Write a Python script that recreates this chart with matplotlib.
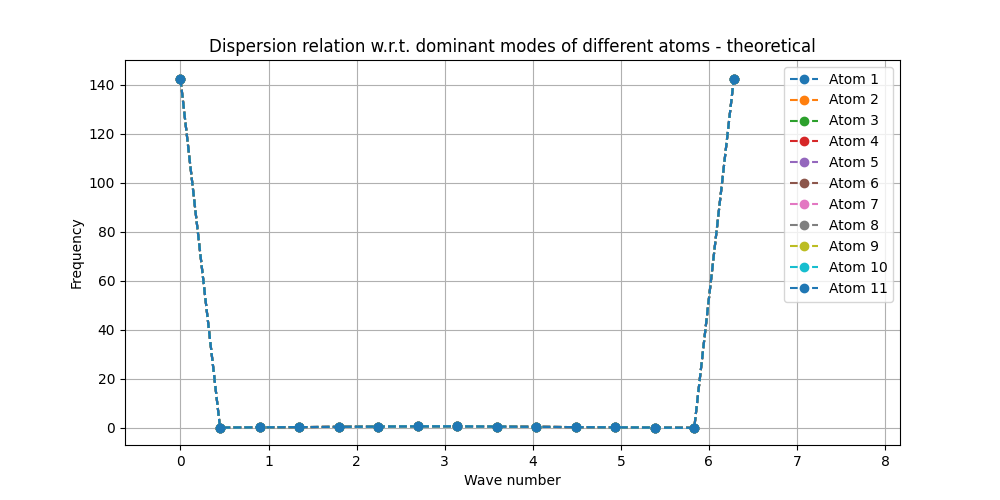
import matplotlib
matplotlib.use("Agg")
import matplotlib.pyplot as plt

# wave numbers
wave_number = [0.0, 0.449, 0.898, 1.346, 1.795, 2.244, 2.693, 3.142,
               3.590, 4.039, 4.488, 4.937, 5.386, 5.834, 6.283]
# every atom shows the same dominant-mode frequencies
frequency = [142.3, 0.1, 0.2, 0.3, 0.4, 0.5, 0.6, 0.6,
             0.5, 0.4, 0.3, 0.2, 0.1, 0.0, 142.3]
atoms = [f"Atom {i}" for i in range(1, 12)]

fig, ax = plt.subplots(figsize=(10, 5), dpi=100)
for name in atoms:
    ax.plot(wave_number, frequency, "o--", label=name)

ax.set_xlim(-0.63, 8.17)
ax.set_ylim(-7, 150)
ax.set_title("Dispersion relation w.r.t. dominant modes of different atoms - theoretical")
ax.set_xlabel("Wave number")
ax.set_ylabel("Frequency")
ax.grid(True)
ax.legend(loc="upper right")
fig.savefig("out.png")
